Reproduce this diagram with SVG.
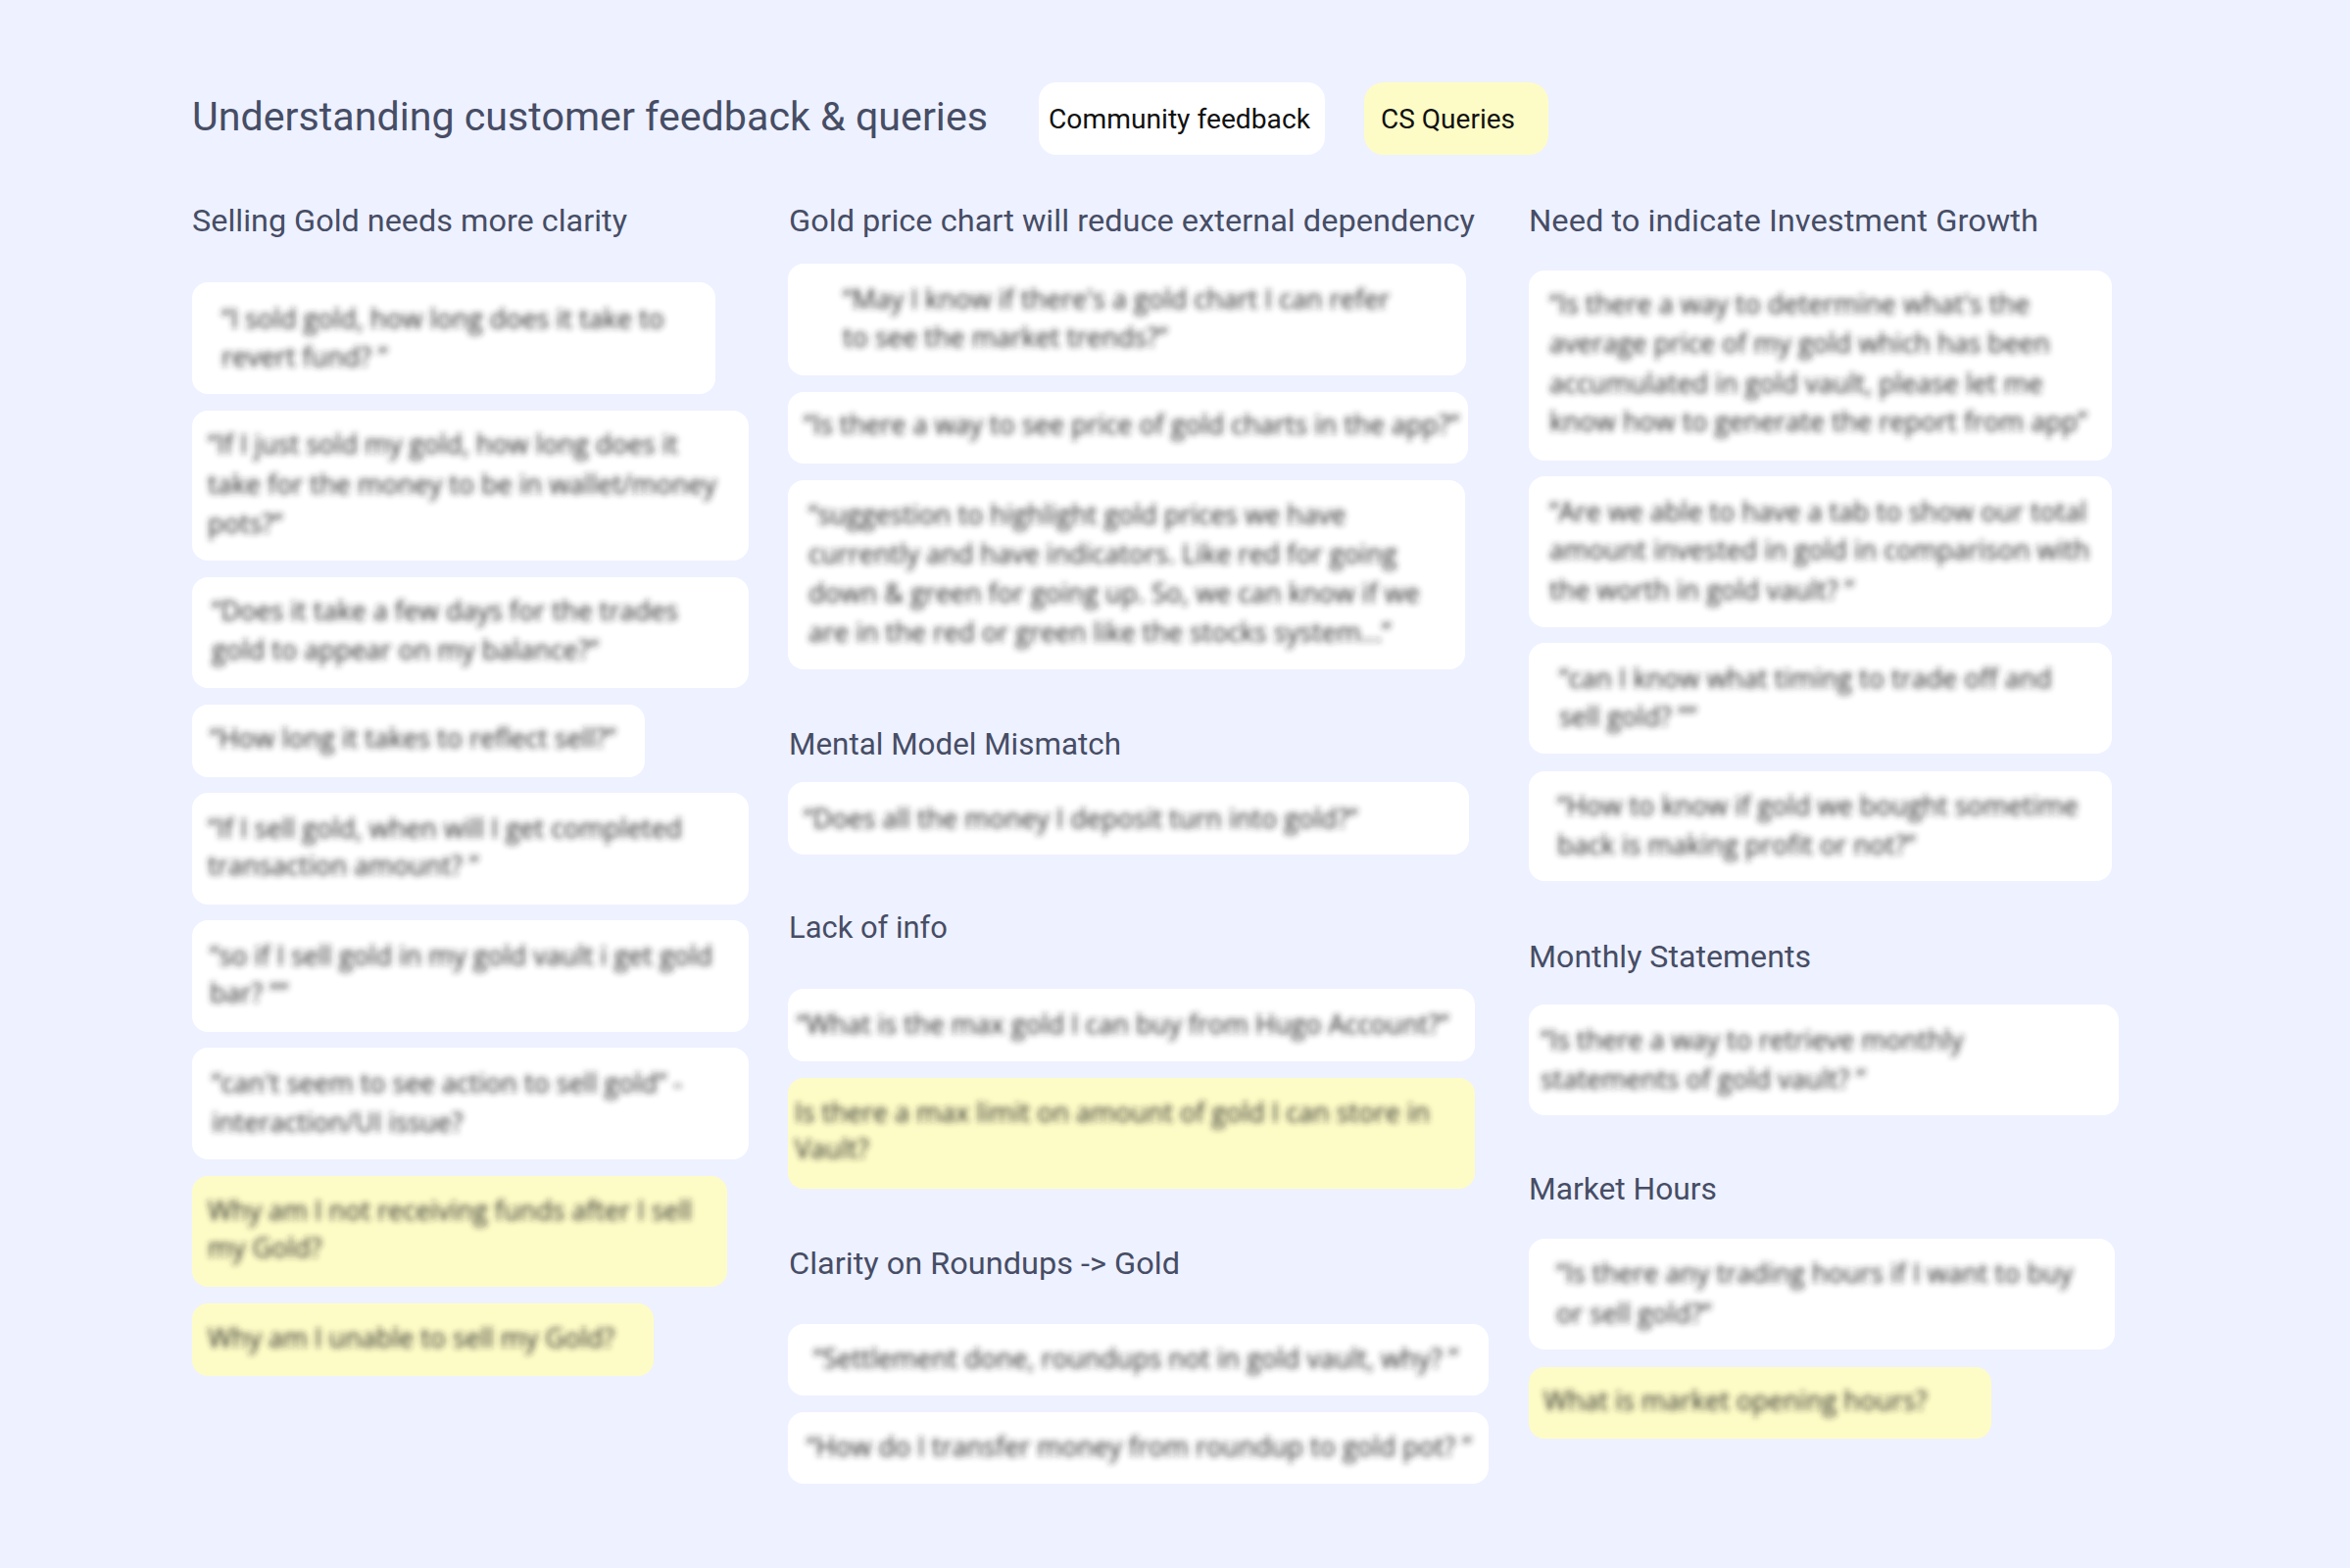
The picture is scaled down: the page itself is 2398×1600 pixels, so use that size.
<svg xmlns="http://www.w3.org/2000/svg" width="2398" height="1600" viewBox="0 0 2398 1600">
<defs>
<style>
.bg{fill:#eef1ff}
.h{font-family:Roboto,"Noto Sans",sans-serif;font-size:31px;fill:#464d65}
.title{font-family:Roboto,"Noto Sans",sans-serif;font-size:41px;fill:#464d65}
.leg{font-family:Roboto,"Noto Sans",sans-serif;font-size:27px;fill:#111}
.card{fill:#ffffff}
.cs{fill:#fefcc6}
.t{font-family:"Open Sans","Noto Sans",sans-serif;font-size:27px;fill:#2a2a2a}
.q{filter:url(#blur)}
</style>
<filter id="blur" x="-5%" y="-40%" width="110%" height="180%"><feGaussianBlur stdDeviation="3.4"/></filter>
</defs>
<rect class="bg" x="0" y="0" width="2398" height="1600"/>

<g id="header">
<text class="title" x="196" y="133" textLength="812" lengthAdjust="spacingAndGlyphs">Understanding customer feedback &amp; queries</text>
</g>
<g id="legend-community">
<rect class="card" x="1060" y="84" width="292" height="74" rx="18"/>
<text class="leg" x="1070" y="131" textLength="267" lengthAdjust="spacingAndGlyphs">Community feedback</text>
</g>
<g id="legend-cs">
<rect class="cs" x="1392" y="84" width="188" height="74" rx="20"/>
<text class="leg" x="1409" y="131" textLength="137" lengthAdjust="spacingAndGlyphs">CS Queries</text>
</g>

<g id="headings">
<text class="h" x="196" y="236" textLength="444" lengthAdjust="spacingAndGlyphs">Selling Gold needs more clarity</text>
<text class="h" x="805" y="236" textLength="700" lengthAdjust="spacingAndGlyphs">Gold price chart will reduce external dependency</text>
<text class="h" x="1560" y="236" textLength="520" lengthAdjust="spacingAndGlyphs">Need to indicate Investment Growth</text>
<text class="h" x="805" y="770" textLength="339" lengthAdjust="spacingAndGlyphs">Mental Model Mismatch</text>
<text class="h" x="805" y="957" textLength="162" lengthAdjust="spacingAndGlyphs">Lack of info</text>
<text class="h" x="805" y="1300" textLength="399" lengthAdjust="spacingAndGlyphs">Clarity on Roundups -&gt; Gold</text>
<text class="h" x="1560" y="987" textLength="288" lengthAdjust="spacingAndGlyphs">Monthly Statements</text>
<text class="h" x="1560" y="1224" textLength="192" lengthAdjust="spacingAndGlyphs">Market Hours</text>
</g>

<g id="c1-1"><rect class="card" x="196" y="288" width="534" height="114" rx="16"/>
<g class="q"><text class="t" x="226" y="335">“I sold gold, how long does it take to</text><text class="t" x="226" y="374">revert fund? ”</text></g></g>
<g id="c1-2"><rect class="card" x="196" y="419" width="568" height="153" rx="16"/>
<g class="q"><text class="t" x="212" y="463">“If I just sold my gold, how long does it</text><text class="t" x="212" y="504">take for the money to be in wallet/money</text><text class="t" x="212" y="544">pots?”</text></g></g>
<g id="c1-3"><rect class="card" x="196" y="589" width="568" height="113" rx="16"/>
<g class="q"><text class="t" x="216" y="633">“Does it take a few days for the trades</text><text class="t" x="216" y="673">gold to appear on my balance?”</text></g></g>
<g id="c1-4"><rect class="card" x="196" y="719" width="462" height="74" rx="16"/>
<g class="q"><text class="t" x="214" y="763">“How long it takes to reflect sell?”</text></g></g>
<g id="c1-5"><rect class="card" x="196" y="809" width="568" height="114" rx="16"/>
<g class="q"><text class="t" x="212" y="855">“If I sell gold, when will I get completed</text><text class="t" x="212" y="893">transaction amount? ”</text></g></g>
<g id="c1-6"><rect class="card" x="196" y="939" width="568" height="114" rx="16"/>
<g class="q"><text class="t" x="214" y="985">“so if I sell gold in my gold vault i get gold</text><text class="t" x="214" y="1023">bar? ””</text></g></g>
<g id="c1-7"><rect class="card" x="196" y="1069" width="568" height="114" rx="16"/>
<g class="q"><text class="t" x="216" y="1115">“can't seem to see action to sell gold” -</text><text class="t" x="216" y="1155">interaction/UI issue?</text></g></g>
<g id="c1-8"><rect class="cs" x="196" y="1200" width="546" height="113" rx="16"/>
<g class="q"><text class="t" x="212" y="1245">Why am I not receiving funds after I sell</text><text class="t" x="212" y="1283">my Gold?</text></g></g>
<g id="c1-9"><rect class="cs" x="196" y="1330" width="471" height="74" rx="16"/>
<g class="q"><text class="t" x="212" y="1375">Why am I unable to sell my Gold?</text></g></g>

<g id="c2-1"><rect class="card" x="804" y="269" width="692" height="114" rx="16"/>
<g class="q"><text class="t" x="860" y="315">“May I know if there's a gold chart I can refer</text><text class="t" x="860" y="354">to see the market trends?”</text></g></g>
<g id="c2-2"><rect class="card" x="804" y="400" width="694" height="73" rx="16"/>
<g class="q"><text class="t" x="820" y="443">“Is there a way to see price of gold charts in the app?”</text></g></g>
<g id="c2-3"><rect class="card" x="804" y="490" width="691" height="193" rx="16"/>
<g class="q"><text class="t" x="825" y="535">“suggestion to highlight gold prices we have</text><text class="t" x="825" y="575">currently and have indicators. Like red for going</text><text class="t" x="825" y="615">down &amp; green for going up. So, we can know if we</text><text class="t" x="825" y="655">are in the red or green like the stocks system...”</text></g></g>
<g id="c2-4"><rect class="card" x="804" y="798" width="695" height="74" rx="16"/>
<g class="q"><text class="t" x="820" y="845">“Does all the money I deposit turn into gold?”</text></g></g>
<g id="c2-5"><rect class="card" x="804" y="1009" width="701" height="74" rx="16"/>
<g class="q"><text class="t" x="813" y="1055">“What is the max gold I can buy from Hugo Account?”</text></g></g>
<g id="c2-6"><rect class="cs" x="804" y="1100" width="701" height="113" rx="16"/>
<g class="q"><text class="t" x="811" y="1145">Is there a max limit on amount of gold I can store in</text><text class="t" x="811" y="1182">Vault?</text></g></g>
<g id="c2-7"><rect class="card" x="804" y="1351" width="715" height="73" rx="16"/>
<g class="q"><text class="t" x="830" y="1396">“Settlement done, roundups not in gold vault, why? ”</text></g></g>
<g id="c2-8"><rect class="card" x="804" y="1441" width="715" height="73" rx="16"/>
<g class="q"><text class="t" x="823" y="1486">“How do I transfer money from roundup to gold pot? ”</text></g></g>

<g id="c3-1"><rect class="card" x="1560" y="276" width="595" height="194" rx="16"/>
<g class="q"><text class="t" x="1581" y="320">“Is there a way to determine what's the</text><text class="t" x="1581" y="360">average price of my gold which has been</text><text class="t" x="1581" y="401">accumulated in gold vault, please let me</text><text class="t" x="1581" y="440">know how to generate the report from app”</text></g></g>
<g id="c3-2"><rect class="card" x="1560" y="486" width="595" height="154" rx="16"/>
<g class="q"><text class="t" x="1581" y="532">“Are we able to have a tab to show our total</text><text class="t" x="1581" y="571">amount invested in gold in comparison with</text><text class="t" x="1581" y="612">the worth in gold vault? ”</text></g></g>
<g id="c3-3"><rect class="card" x="1560" y="656" width="595" height="113" rx="16"/>
<g class="q"><text class="t" x="1591" y="702">“can I know what timing to trade off and</text><text class="t" x="1591" y="741">sell gold? ””</text></g></g>
<g id="c3-4"><rect class="card" x="1560" y="787" width="595" height="112" rx="16"/>
<g class="q"><text class="t" x="1589" y="832">“How to know if gold we bought sometime</text><text class="t" x="1589" y="872">back is making profit or not?”</text></g></g>
<g id="c3-5"><rect class="card" x="1560" y="1025" width="602" height="113" rx="16"/>
<g class="q"><text class="t" x="1572" y="1071">“Is there a way to retrieve monthly</text><text class="t" x="1572" y="1111">statements of gold vault? ”</text></g></g>
<g id="c3-6"><rect class="card" x="1560" y="1264" width="598" height="113" rx="16"/>
<g class="q"><text class="t" x="1588" y="1309">“Is there any trading hours if I want to buy</text><text class="t" x="1588" y="1350">or sell gold?”</text></g></g>
<g id="c3-7"><rect class="cs" x="1560" y="1395" width="472" height="73" rx="16"/>
<g class="q"><text class="t" x="1575" y="1439">What is market opening hours?</text></g></g>

<g id="connectors"/>
</svg>
